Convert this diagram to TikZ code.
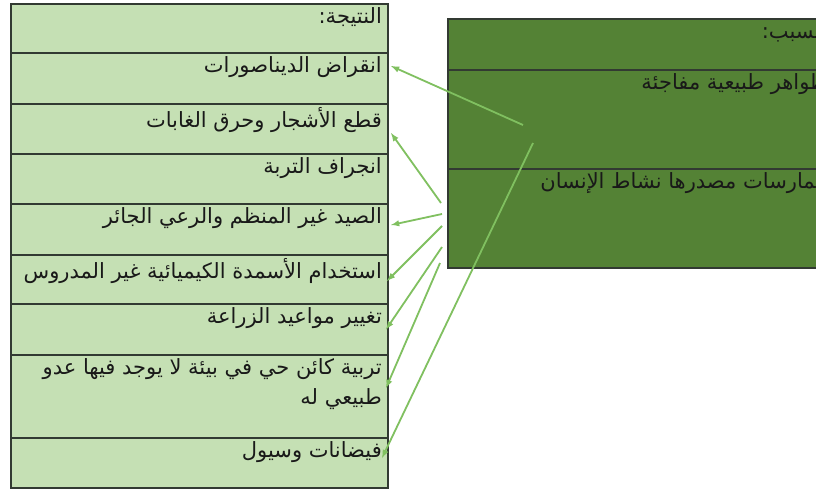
\documentclass[tikz,border=0pt]{standalone}
\usepackage{fontspec}
\newfontfamily\arabicfont[Script=Arabic]{DejaVu Sans}
\TeXXeTstate=1
\usetikzlibrary{positioning}

\definecolor{resultgreen}{RGB}{197,224,180}
\definecolor{causegreen}{RGB}{84,130,53}
\definecolor{linkgreen}{RGB}{128,192,96}
\definecolor{framegray}{RGB}{50,58,50}

\newcommand\artext[1]{\beginR#1\endR}

\begin{document}
\begin{tikzpicture}[
x=1pt,y=-1pt,
rowbox/.style={
  draw=framegray,
  line width=2pt,
  fill=resultgreen,
  minimum width=377pt,
  inner sep=0pt,
  anchor=north west
  },
causebox/.style={
  rowbox,
  fill=causegreen,
  minimum width=388pt
  },
rowtext/.style={
  font=\arabicfont\fontsize{21}{30}\selectfont,
  anchor=north east,
  inner sep=0pt,
  align=right,
  text=black!90
  },
link/.style={color=linkgreen, line width=1.8pt, -latex}
]
\path[use as bounding box, clip] (0,0) rectangle (816,488);
\fill[white] (0,0) rectangle (816,488);
% results column
\foreach \i/\top/\h/\txt in {
  0/3/49/{النتيجة:},
  1/52/51/{انقراض الديناصورات},
  2/103/50/{قطع الأشجار وحرق الغابات},
  3/153/50/{انجراف التربة},
  4/203/51/{الصيد غير المنظم والرعي الجائر},
  5/254/49/{استخدام الأسمدة الكيميائية غير المدروس},
  6/303/51/{تغيير مواعيد الزراعة},
  8/437/50/{فيضانات وسيول}}
{
  \node[rowbox, minimum height=\h pt] (res\i) at (10,\top) {};
  \node[rowtext] (rest\i) at ([xshift=-7pt,yshift=-4pt]res\i.north east) {\artext{\txt}};
}
\node[rowbox, minimum height=83pt] (res7) at (10,354) {};
\node[rowtext] (rest7) at ([xshift=-7pt,yshift=-4pt]res7.north east)
  {\artext{تربية كائن حي في بيئة لا يوجد فيها عدو}\\\artext{طبيعي له}};
% causes column
\foreach \i/\top/\h/\txt in {
  0/18/51/{السبب:},
  1/69/99/{ظواهر طبيعية مفاجئة},
  2/168/99/{ممارسات مصدرها نشاط الإنسان}}
{
  \node[causebox, minimum height=\h pt] (cause\i) at (447,\top) {};
  \node[rowtext] (causet\i) at ([xshift=-10pt,yshift=-4pt]cause\i.north east) {\artext{\txt}};
}
% links
\coordinate (s1) at (523,125);
\coordinate (s2) at (441,203);
\coordinate (s3) at (442,214);
\coordinate (s4) at (442,226);
\coordinate (s5) at (442,247);
\coordinate (s6) at (440,263);
\coordinate (s7) at (533,143);
\path[link]
  (s1) edge ([xshift=2pt,yshift=12.5pt]res1.east)
  (s2) edge ([xshift=2pt,yshift=-4pt]res2.east)
  (s3) edge ([xshift=2pt,yshift=4.5pt]res4.east)
  (s4) edge ([xshift=-2pt,yshift=-1.5pt]res5.east)
  (s5) edge ([xshift=-3pt]res6.east)
  (s6) edge ([xshift=-3pt,yshift=8.5pt]res7.east)
  (s7) edge ([xshift=-7pt,yshift=5pt]res8.east);
\end{tikzpicture}
\end{document}
